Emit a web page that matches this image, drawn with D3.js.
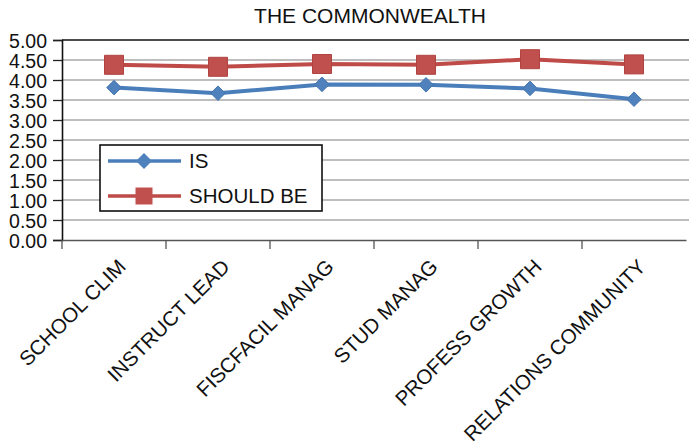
<!DOCTYPE html>
<html>
<head>
<meta charset="utf-8">
<script src="https://cdn.jsdelivr.net/npm/d3@7"></script>
<style>
  body { margin: 0; background: #fff; }
  svg { display: block; font-family: "Liberation Sans", Arial, sans-serif; }
</style>
</head>
<body>
<div id="chart"></div>
<script>
'use strict';

// Chart data
const categories = ["SCHOOL CLIM", "INSTRUCT LEAD", "FISCFACIL MANAG", "STUD MANAG", "PROFESS GROWTH", "RELATIONS COMMUNITY"];
const isValues = [3.81, 3.67, 3.89, 3.88, 3.79, 3.52];
const shouldBeValues = [4.38, 4.33, 4.40, 4.38, 4.52, 4.39];
const yTicks = [0, 0.5, 1, 1.5, 2, 2.5, 3, 3.5, 4, 4.5, 5];
const seriesNames = ["IS", "SHOULD BE"];

const width = 689;
const height = 445;
const margin = {top: 40, right: 3, bottom: 205, left: 62};

const svg = d3.select("#chart").append("svg")
    .attr("width", width)
    .attr("height", height);

const x = d3.scaleBand()
    .domain(categories)
    .range([margin.left, width - margin.right]);

const y = d3.scaleLinear()
    .domain([0, 5])
    .range([height - margin.bottom, margin.top]);

// Title
svg.append("text")
    .attr("x", 370)
    .attr("y", 23)
    .attr("text-anchor", "middle")
    .style("font-size", "21px")
    .attr("fill", "#111")
    .text("THE COMMONWEALTH");

// Gridlines
svg.append("g")
    .selectAll("line")
    .data(yTicks.filter(d => d > 0 && d < 5))
    .join("line")
      .attr("x1", margin.left)
      .attr("x2", width)
      .attr("y1", d => y(d))
      .attr("y2", d => y(d))
      .attr("stroke", "#a8a8a8")
      .attr("stroke-width", 1.6);

// Top border
svg.append("line")
    .attr("x1", margin.left)
    .attr("x2", width)
    .attr("y1", y(5))
    .attr("y2", y(5))
    .attr("stroke", "#111")
    .attr("stroke-width", 1.6);

// Y axis
const yAxis = svg.append("g")
    .attr("transform", `translate(${margin.left},0)`)
    .call(d3.axisLeft(y).tickValues(yTicks).tickFormat(d3.format(".2f")).tickSize(9).tickPadding(6));
yAxis.select(".domain").attr("stroke", "#111").attr("stroke-width", 1.6);
yAxis.selectAll(".tick line").attr("stroke", "#222").attr("stroke-width", 1.3);
yAxis.selectAll("text").style("font-size", "19.5px").attr("fill", "#111").attr("dy", "0.36em");

// X axis
const xAxis = svg.append("g")
    .attr("transform", `translate(0,${y(0)})`)
    .call(d3.axisBottom(x).tickSize(9).tickSizeOuter(0));
xAxis.select(".domain").attr("stroke", "#555").attr("stroke-width", 1.6);
xAxis.selectAll(".tick line")
    .attr("transform", `translate(${-x.bandwidth() / 2},0)`)
    .attr("stroke", "#555")
    .attr("stroke-width", 1.3);
xAxis.selectAll("text")
    .style("font-size", "20.5px")
    .attr("fill", "#111")
    .attr("text-anchor", "end")
    .attr("transform", "translate(13,28) rotate(-45)")
    .attr("dy", 0)
    .attr("y", 0);

// Lines and markers
const cx = d => x(d) + x.bandwidth() / 2;
const line = d3.line()
    .x((d, i) => cx(categories[i]))
    .y(d => y(d));

const isColor = "#4a7ebb";
const shouldColor = "#be4b48";

svg.append("path")
    .datum(shouldBeValues)
    .attr("fill", "none")
    .attr("stroke", shouldColor)
    .attr("stroke-width", 4)
    .attr("d", line);

svg.append("path")
    .datum(isValues)
    .attr("fill", "none")
    .attr("stroke", isColor)
    .attr("stroke-width", 4)
    .attr("d", line);

const diamond = d3.symbol().type(d3.symbolDiamond2).size(135);
const square = d3.symbol().type(d3.symbolSquare).size(361);

svg.append("g")
    .selectAll("path")
    .data(shouldBeValues)
    .join("path")
      .attr("d", square)
      .attr("transform", (d, i) => `translate(${cx(categories[i])},${y(d)})`)
      .attr("fill", "#c0504d")
      .attr("stroke", "#b04440")
      .attr("stroke-width", 1);

svg.append("g")
    .selectAll("path")
    .data(isValues)
    .join("path")
      .attr("d", diamond)
      .attr("transform", (d, i) => `translate(${cx(categories[i])},${y(d)})`)
      .attr("fill", "#4f81bd")
      .attr("stroke", "#4575b0")
      .attr("stroke-width", 1);

// Legend
const legend = svg.append("g").attr("transform", "translate(100,145)");
legend.append("rect")
    .attr("width", 222)
    .attr("height", 66)
    .attr("fill", "#fff")
    .attr("stroke", "#111")
    .attr("stroke-width", 1.6);

const legendRows = [
  {name: seriesNames[0], color: isColor, symbol: d3.symbol().type(d3.symbolDiamond2).size(162), fill: "#4f81bd", y: 16},
  {name: seriesNames[1], color: shouldColor, symbol: d3.symbol().type(d3.symbolSquare).size(289), fill: "#c0504d", y: 51}
];
legendRows.forEach(r => {
  legend.append("line")
      .attr("x1", 8).attr("x2", 81)
      .attr("y1", r.y).attr("y2", r.y)
      .attr("stroke", r.color)
      .attr("stroke-width", 3.5);
  legend.append("path")
      .attr("d", r.symbol)
      .attr("transform", `translate(44,${r.y})`)
      .attr("fill", r.fill);
  legend.append("text")
      .attr("x", 89)
      .attr("y", r.y)
      .attr("dy", "0.36em")
      .style("font-size", "20.5px")
      .attr("fill", "#111")
      .text(r.name);
});
</script>
</body>
</html>
